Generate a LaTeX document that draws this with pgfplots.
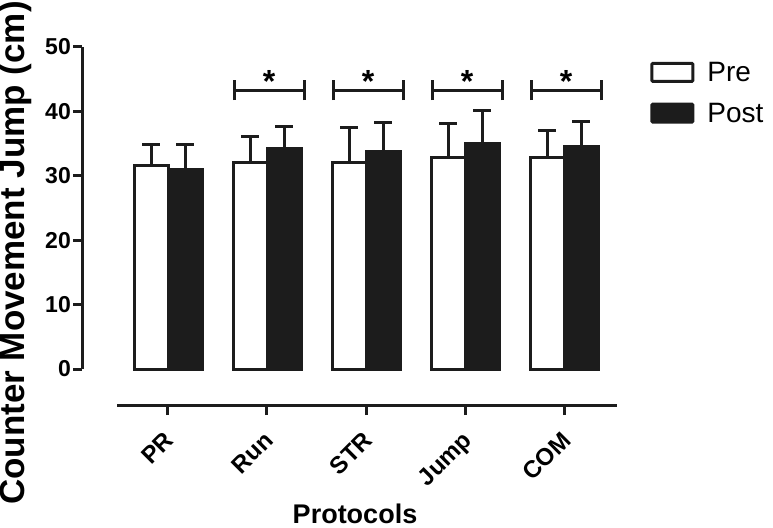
\documentclass[border=0pt]{standalone}
\usepackage{fontspec}
\setmainfont{Liberation Sans}
\usepackage{pgfplots}
\pgfplotsset{compat=1.18}

\definecolor{ink}{HTML}{1C1C1C}

% mean and SD (upper only) per protocol
\pgfplotstableread{
x  pre   preerr  post  posterr
0  31.6  3.3     31.0  3.9
1  32.1  4.0     34.2  3.5
2  32.0  5.5     33.8  4.4
3  32.9  5.2     35.0  5.1
4  32.8  4.2     34.6  3.9
}\cmjdata

\begin{document}
\begin{tikzpicture}
\path[use as bounding box] (0,0) rectangle (773pt,527pt);

% bars, y axis, legend
\begin{axis}[
    at={(82pt,158pt)}, anchor=south west,
    scale only axis, width=531.5pt, height=322pt,
    xmin=-0.87, xmax=4.5, ymin=0, ymax=50,
    ybar=0pt, bar width=34pt,
    hide x axis,
    axis y line*=left,
    y axis line style={-, line width=3pt, ink},
    ytick={0,10,...,50},
    tick align=outside, major tick length=9pt,
    ytick style={line width=3pt, ink},
    /pgf/number format/assume math mode=true,
    yticklabel style={font=\bfseries\fontsize{23}{23}\selectfont, inner sep=2pt},
    ylabel={Counter Movement Jump (cm)},
    ylabel style={font=\bfseries\fontsize{35}{35}\selectfont,
        at={(axis description cs:-0.126,0.36)}, anchor=center},
    clip=false,
    legend style={draw=none, fill=none, inner sep=0pt,
        at={(rel axis cs:1.069,0.96)}, anchor=north west,
        font=\fontsize{28}{28}\selectfont, row sep=16pt,
        /tikz/every odd column/.append style={column sep=11pt}},
    legend cell align=left,
]
\addplot[draw=ink, fill=white, line width=3pt,
    legend image code/.code={\draw[draw=ink, fill=white, line width=3pt, rounded corners=1pt] (0pt,-9pt) rectangle (41pt,9pt);},
    error bars/.cd, y dir=plus, y explicit,
    error bar style={line width=3pt, ink},
    error mark options={rotate=90, line width=3pt, mark size=9pt, ink}]
    table[x=x, y=pre, y error=preerr] {\cmjdata};
\addlegendentry{Pre}
\addplot[draw=ink, fill=ink, line width=3pt,
    legend image code/.code={\draw[draw=ink, fill=ink, line width=3pt, rounded corners=1pt] (0pt,-9pt) rectangle (41pt,9pt);},
    error bars/.cd, y dir=plus, y explicit,
    error bar style={line width=3pt, ink},
    error mark options={rotate=90, line width=3pt, mark size=9pt, ink}]
    table[x=x, y=post, y error=posterr] {\cmjdata};
\addlegendentry{Post}

% significance brackets
\pgfplotsinvokeforeach{1,2,3,4}{
    \draw[ink, line width=3pt] (axis cs:#1-0.33,43.3) -- (axis cs:#1+0.38,43.3);
    \draw[ink, line width=3pt] (axis cs:#1-0.33,41.75) -- (axis cs:#1-0.33,44.85);
    \draw[ink, line width=3pt] (axis cs:#1+0.38,41.75) -- (axis cs:#1+0.38,44.85);
    \node[anchor=base, inner sep=0pt, font=\bfseries\fontsize{32}{32}\selectfont]
        at (axis cs:#1+0.02,43.0) {*};
}
\end{axis}

% offset category axis
\begin{axis}[
    at={(117pt,122pt)}, anchor=south west,
    scale only axis, width=500pt, height=10pt,
    xmin=-0.51, xmax=4.53, ymin=0, ymax=1,
    hide y axis,
    axis x line*=bottom,
    x axis line style={-, line width=3pt, ink},
    xtick={0,...,4},
    xticklabels={PR,Run,STR,Jump,COM},
    tick align=outside, major tick length=10pt,
    xtick style={line width=3pt, ink},
    xticklabel style={rotate=45, anchor=north east,
        font=\bfseries\fontsize{24}{24}\selectfont, inner sep=0pt,
        xshift=-13.5pt, yshift=-7.8pt},
    xlabel={Protocols},
    xlabel style={font=\bfseries\fontsize{27}{27}\selectfont,
        at={(rel axis cs:0.476,-11.8)}, anchor=base},
]
\end{axis}
\end{tikzpicture}
\end{document}
